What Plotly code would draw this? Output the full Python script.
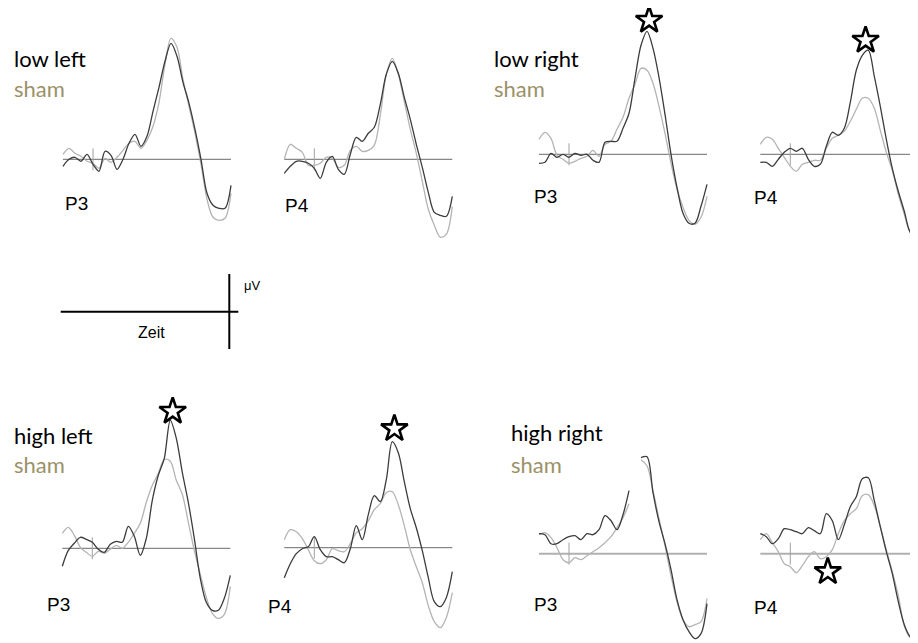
import plotly.graph_objects as go

# the page body has an 8 px margin, so the figure is laid out 8 px in
W_PAGE, H_PAGE = 918, 643
OFF = 8
W, H = W_PAGE - OFF, H_PAGE - OFF
PX_PER_MS = 0.3
PX_PER_UV = 10.0

# ---------------- data (time in ms, amplitude in µV) ----------------
t_long = list(range(-100, 461, 20))
t_short = list(range(-100, 421, 20))

low_left_P3_stim = [-0.7, 0.0, 0.2, -0.2, 0.5, -0.5, -1.2, 0.8, 0.4, -1.0, 0.0, 1.6, 2.5, 1.3, 2.3, 4.8, 7.2, 9.8, 11.6, 10.3, 7.7, 5.6, 3.0, 0.0, -3.4, -4.6, -4.9, -4.9, -2.6]
low_left_P3_sham = [0.5, 1.1, 0.6, 0.3, -0.2, -0.4, -0.9, 0.1, -0.3, 0.2, 0.9, 1.6, 1.8, 1.1, 1.9, 3.3, 5.7, 9.5, 12.1, 11.2, 8.0, 5.3, 2.6, -0.5, -4.0, -5.8, -6.1, -5.9, -3.4]

low_left_P4_stim = [-1.4, -0.7, -0.2, -0.2, -0.4, -0.9, -1.9, -0.3, 0.3, -1.0, -1.5, 0.5, 2.2, 1.8, 2.6, 3.2, 5.5, 8.5, 9.8, 8.6, 6.2, 4.0, 1.5, -0.8, -3.3, -5.3, -5.6, -5.7, -3.7]
low_left_P4_sham = [0.0, 1.5, 1.1, 0.7, -0.6, -0.6, -0.4, 0.2, 0.1, -0.8, -0.6, 0.9, 1.3, 0.8, 0.9, 1.4, 4.4, 8.5, 10.1, 8.5, 5.8, 3.0, 0.6, -2.2, -5.0, -6.6, -7.8, -7.5, -4.7]

low_right_P3_stim = [-0.9, -0.8, 0.1, -0.3, 0.0, -0.3, 0.1, -0.1, 0.0, -0.6, -0.8, 1.2, 1.3, 1.3, 2.6, 4.1, 7.6, 10.9, 12.3, 10.6, 7.7, 4.0, 0.0, -3.3, -5.9, -6.9, -6.9, -5.2, -3.0]
low_right_P3_sham = [1.5, 2.2, 1.6, -0.1, -0.5, -0.9, -0.7, -0.4, -0.2, 0.4, -0.2, 1.0, 1.3, 2.5, 3.7, 5.6, 7.0, 8.6, 8.4, 7.1, 4.8, 2.1, -0.9, -3.5, -5.3, -6.6, -7.0, -6.3, -4.2]

low_right_P4_stim = [-0.8, -0.8, -1.2, -0.5, 0.2, 0.6, 0.3, 0.6, -0.5, -1.2, -1.0, 0.8, 2.2, 1.9, 2.6, 5.2, 8.4, 9.9, 10.4, 7.8, 4.8, 1.5, -1.4, -3.7, -5.7, -7.8, -8.2]
low_right_P4_sham = [1.0, 1.7, 1.5, 0.6, -0.3, -1.2, -1.7, -1.0, -0.8, -0.6, -0.6, 0.6, 1.6, 1.9, 2.3, 3.3, 4.5, 5.6, 5.6, 4.6, 2.4, 0.2, -1.6, -4.0, -6.0, -7.8, -8.1]

high_left_P3_stim = [-1.8, -0.2, 0.5, 1.1, 0.9, 0.6, -0.1, -0.4, 0.4, 0.7, 0.6, 2.2, 1.2, -0.7, 1.0, 4.8, 7.3, 9.0, 12.8, 11.0, 7.6, 4.6, 1.0, -3.0, -5.4, -6.2, -6.2, -5.0, -2.7]
high_left_P3_sham = [1.5, 2.1, 1.3, 0.1, -0.4, -0.8, -0.3, -0.5, -0.1, 0.3, 0.0, 0.6, 1.5, 2.5, 4.6, 6.3, 7.5, 8.9, 8.7, 6.8, 5.4, 2.6, -0.2, -2.6, -4.9, -6.5, -7.0, -6.6, -3.8]

high_left_P4_stim = [-3.0, -1.6, -0.6, -0.1, 0.1, 1.1, -0.2, -0.9, -0.9, -1.2, -1.5, -0.1, 2.2, 0.8, 3.3, 5.2, 4.6, 6.8, 10.6, 9.5, 6.6, 3.9, 2.0, -0.3, -3.0, -5.4, -5.9, -5.0, -2.4]
high_left_P4_sham = [0.8, 1.8, 1.6, 0.9, -0.2, -1.3, -1.6, -1.2, -0.1, -0.3, -0.4, 0.4, 1.5, 1.9, 2.7, 3.8, 4.4, 5.5, 5.6, 4.3, 2.2, -0.2, -1.9, -3.5, -5.8, -7.4, -8.0, -7.0, -4.5]

high_right_P3_stim = [2.0, 1.9, 1.0, 1.0, 1.4, 1.7, 1.8, 1.4, 2.0, 1.9, 2.4, 3.8, 3.3, 2.4, 3.9, 6.3, None, 9.6, 9.7, 6.1, 3.2, 1.0, -1.6, -4.6, -6.6, -7.8, -8.5, -8.0, -5.0]
high_right_P3_sham = [1.9, 2.1, 1.6, 0.6, -0.6, -0.9, -0.4, -0.6, -0.2, 0.2, 0.6, 1.1, 1.7, 2.6, 3.6, 5.0, None, 9.4, 8.8, 6.3, 3.5, 0.8, -2.2, -4.8, -6.6, -7.3, -7.1, -6.8, -4.5]

high_right_P4_stim = [2.0, 1.7, 1.0, 1.5, 2.5, 2.4, 2.2, 2.0, 2.6, 2.3, 2.0, 4.0, 3.3, 1.4, 2.9, 4.7, 5.7, 7.5, 7.6, 5.3, 2.7, 0.2, -2.0, -4.8, -7.1, -8.3, -8.5]
high_right_P4_sham = [1.4, 2.0, 1.1, 0.2, -1.0, -1.3, -1.9, -1.2, -0.3, 0.2, -0.5, -0.3, 0.4, 2.0, 3.3, 4.0, 4.5, 5.8, 5.9, 4.8, 2.7, 0.4, -1.8, -4.2, -7.2, -8.4, -8.4]

# significance stars (time ms, amplitude µV)
star_low_right_P3 = (267, 13.4)
star_low_right_P4 = (251, 11.4)
star_high_left_P3 = (268, 13.7)
star_high_left_P4 = (267, 11.9)
star_high_right_P4 = (125, -1.8)

electrodes = ["P3", "P4", "P3", "P4", "P3", "P4", "P3", "P4"]
conditions = ["low left", "low right", "high left", "high right"]
sham_label = "sham"


def px(xp):
    return (xp - OFF) / W


def py(yp):
    return 1 - (yp - OFF) / H


# ---------------- layout of the panels (pixel anchors in the page) ----------------
panels = [
    dict(t=t_long, stim=low_left_P3_stim, sham=low_left_P3_sham, x0=93.0, y0=159.3, lab=(63.3, 204.0), star=None, bcol="#6a6a6a", bw=1),
    dict(t=t_long, stim=low_left_P4_stim, sham=low_left_P4_sham, x0=314.3, y0=159.3, lab=(283.3, 205.7), star=None, bcol="#6a6a6a", bw=1),
    dict(t=t_long, stim=low_right_P3_stim, sham=low_right_P3_sham, x0=569.0, y0=154.3, lab=(531.7, 196.7), star=star_low_right_P3, bcol="#6a6a6a", bw=1),
    dict(t=t_short, stim=low_right_P4_stim, sham=low_right_P4_sham, x0=790.3, y0=154.3, lab=(752.3, 197.5), star=star_low_right_P4, bcol="#6a6a6a", bw=1),
    dict(t=t_long, stim=high_left_P3_stim, sham=high_left_P3_sham, x0=92.3, y0=548.3, lab=(45.0, 604.0), star=star_high_left_P3, bcol="#6a6a6a", bw=1),
    dict(t=t_long, stim=high_left_P4_stim, sham=high_left_P4_sham, x0=314.3, y0=547.7, lab=(266.0, 606.0), star=star_high_left_P4, bcol="#6a6a6a", bw=1),
    dict(t=t_long, stim=high_right_P3_stim, sham=high_right_P3_sham, x0=569.0, y0=553.7, lab=(531.7, 604.5), star=None, bcol="#b0b0b0", bw=2),
    dict(t=t_short, stim=high_right_P4_stim, sham=high_right_P4_sham, x0=790.3, y0=553.7, lab=(752.3, 607.0), star=star_high_right_P4, bcol="#b0b0b0", bw=2),
]

STIM_COLOR = "#3c3c3c"
SHAM_COLOR = "#b4b4b4"
SHAM_TEXT = "#9b9166"

fig = go.Figure()
shapes = []
annotations = []
layout_axes = {}

for i, p in enumerate(panels, start=1):
    xa = "x" if i == 1 else f"x{i}"
    ya = "y" if i == 1 else f"y{i}"
    left = max(p["x0"] - 35, OFF)
    right = min(p["x0"] + 145, W_PAGE)
    top = max(p["y0"] - 150, OFF)
    bottom = min(p["y0"] + 95, H_PAGE)
    xr = [(left - p["x0"]) / PX_PER_MS, (right - p["x0"]) / PX_PER_MS]
    yr = [(p["y0"] - bottom) / PX_PER_UV, (p["y0"] - top) / PX_PER_UV]
    kx = "xaxis" if i == 1 else f"xaxis{i}"
    ky = "yaxis" if i == 1 else f"yaxis{i}"
    layout_axes[kx] = dict(domain=[px(left), px(right)], range=xr, visible=False, fixedrange=True, anchor=ya)
    layout_axes[ky] = dict(domain=[py(bottom), py(top)], range=yr, visible=False, fixedrange=True, anchor=xa)

    # baseline
    shapes.append(dict(type="line", xref=xa, yref=ya, x0=p["t"][0], x1=p["t"][-1], y0=0, y1=0,
                       line=dict(color=p["bcol"], width=p["bw"]), layer="below"))
    # stimulus-onset tick
    shapes.append(dict(type="line", xref=xa, yref=ya, x0=0, x1=0, y0=-1.1, y1=1.1,
                       line=dict(color="#a0a0a0", width=1), layer="below"))

    fig.add_trace(go.Scatter(x=p["t"], y=p["sham"], mode="lines", xaxis=xa, yaxis=ya,
                             line=dict(color=SHAM_COLOR, width=1.3, shape="spline", smoothing=0.9),
                             connectgaps=False, hoverinfo="skip", showlegend=False))
    fig.add_trace(go.Scatter(x=p["t"], y=p["stim"], mode="lines", xaxis=xa, yaxis=ya,
                             line=dict(color=STIM_COLOR, width=1.3, shape="spline", smoothing=0.9),
                             connectgaps=False, hoverinfo="skip", showlegend=False))
    if p["star"] is not None:
        fig.add_trace(go.Scatter(x=[p["star"][0]], y=[p["star"][1]], mode="markers", xaxis=xa, yaxis=ya,
                                 marker=dict(symbol="star", size=20, color="white",
                                             line=dict(color="black", width=2.6)),
                                 cliponaxis=False, hoverinfo="skip", showlegend=False))

    annotations.append(dict(text=electrodes[i - 1], x=px(p["lab"][0]), y=py(p["lab"][1]),
                            xref="paper", yref="paper", xanchor="left", yanchor="middle",
                            showarrow=False, font=dict(family="Liberation Sans, Arial", size=19, color="black")))

# condition labels
cond_pos = [(11.5, 58.2, 88.2), (491.5, 58.2, 88.2), (11.5, 435.5, 464.5), (509.0, 432.2, 464.5)]
for name, (lx, ly1, ly2) in zip(conditions, cond_pos):
    annotations.append(dict(text=name, x=px(lx), y=py(ly1), xref="paper", yref="paper",
                            xanchor="left", yanchor="middle", showarrow=False,
                            font=dict(family="Lato", size=22, color="black")))
    annotations.append(dict(text=sham_label, x=px(lx), y=py(ly2), xref="paper", yref="paper",
                            xanchor="left", yanchor="middle", showarrow=False,
                            font=dict(family="Lato", size=22, color=SHAM_TEXT)))

# scale bar (legend of axes)
shapes.append(dict(type="line", xref="paper", yref="paper", x0=px(60.7), x1=px(238.3),
                   y0=py(311.7), y1=py(311.7), line=dict(color="black", width=2)))
shapes.append(dict(type="line", xref="paper", yref="paper", x0=px(229.3), x1=px(229.3),
                   y0=py(274), y1=py(349), line=dict(color="black", width=2)))
annotations.append(dict(text="μV", x=px(242.5), y=py(285), xref="paper", yref="paper",
                        xanchor="left", yanchor="middle", showarrow=False,
                        font=dict(family="Liberation Sans, Arial", size=13, color="black")))
annotations.append(dict(text="Zeit", x=px(151.8), y=py(332.5), xref="paper", yref="paper",
                        xanchor="center", yanchor="middle", showarrow=False,
                        font=dict(family="Liberation Sans, Arial", size=16, color="black")))

fig.update_layout(width=W, height=H, margin=dict(l=0, r=0, t=0, b=0),
                  paper_bgcolor="white", plot_bgcolor="rgba(0,0,0,0)",
                  shapes=shapes, annotations=annotations, **layout_axes)

fig.write_html("out.html")
